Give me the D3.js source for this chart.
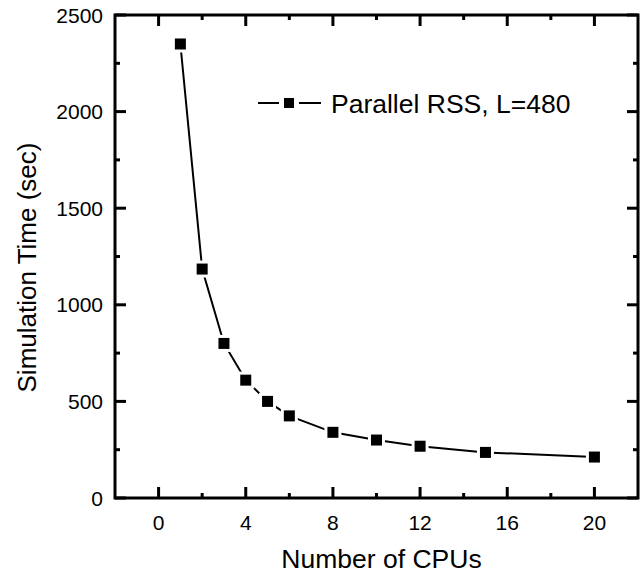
<!DOCTYPE html>
<html>
<head>
<meta charset="utf-8">
<script src="https://cdn.jsdelivr.net/npm/d3@7"></script>
<style>
  body { margin: 0; background: #fff; }
  svg { font-family: "Liberation Sans", Arial, Helvetica, sans-serif; }
</style>
</head>
<body>
<div class="vis-chart"></div>
<script>
// data
const cpus = [1, 2, 3, 4, 5, 6, 8, 10, 12, 15, 20];
const simTime = [2350, 1185, 800, 610, 500, 425, 340, 300, 268, 236, 212];
const xTicks = [0, 4, 8, 12, 16, 20];
const yTicks = [0, 500, 1000, 1500, 2000, 2500];
const seriesName = "Parallel RSS, L=480";

const width = 642, height = 575;
const margin = {top: 15, right: 4, bottom: 77, left: 115};

const svg = d3.select('.vis-chart')
    .append('svg')
    .attr('width', width)
    .attr('height', height);

const x = d3.scaleLinear().domain([-2, 22]).range([margin.left, width - margin.right]);
const y = d3.scaleLinear().domain([0, 2500]).range([height - margin.bottom, margin.top]);

const x0 = x.range()[0], x1 = x.range()[1];
const y0 = y.range()[0], y1 = y.range()[1];

const major = 11, minor = 5;
const xMinor = d3.range(-2, 23, 2).filter(v => !xTicks.includes(v) && v > -2 && v < 22);
const yMinor = d3.range(250, 2500, 500);

const ticks = svg.append("g")
    .attr("stroke", "#000")
    .attr("stroke-width", 3);

// bottom + top ticks (inward)
xTicks.concat(xMinor).forEach(v => {
    const len = xTicks.includes(v) ? major : minor;
    ticks.append("line").attr("x1", x(v)).attr("x2", x(v)).attr("y1", y0).attr("y2", y0 - len);
    ticks.append("line").attr("x1", x(v)).attr("x2", x(v)).attr("y1", y1).attr("y2", y1 + len);
});
// left + right ticks (inward)
yTicks.concat(yMinor).forEach(v => {
    const len = yTicks.includes(v) ? major : minor;
    ticks.append("line").attr("y1", y(v)).attr("y2", y(v)).attr("x1", x0).attr("x2", x0 + len);
    ticks.append("line").attr("y1", y(v)).attr("y2", y(v)).attr("x1", x1).attr("x2", x1 - len);
});

// frame
svg.append("rect")
    .attr("x", x0).attr("y", y1)
    .attr("width", x1 - x0).attr("height", y0 - y1)
    .attr("fill", "none")
    .attr("stroke", "#000")
    .attr("stroke-width", 3);

// tick labels
svg.append("g").selectAll("text")
    .data(xTicks)
    .join("text")
    .attr("x", d => x(d))
    .attr("y", y0 + 32)
    .attr("text-anchor", "middle")
    .attr("font-size", 21)
    .text(d => d);

svg.append("g").selectAll("text")
    .data(yTicks)
    .join("text")
    .attr("x", x0 - 12)
    .attr("y", d => y(d))
    .attr("dy", "0.36em")
    .attr("text-anchor", "end")
    .attr("font-size", 21)
    .text(d => d);

// axis titles
svg.append("text")
    .attr("x", (x0 + x1) / 2 + 5)
    .attr("y", y0 + 70)
    .attr("text-anchor", "middle")
    .attr("font-size", 26.5)
    .text("Number of CPUs");

svg.append("text")
    .attr("transform", `translate(36,${(y0 + y1) / 2 + 11}) rotate(-90)`)
    .attr("text-anchor", "middle")
    .attr("font-size", 26)
    .text("Simulation Time (sec)");

// series
const pts = cpus.map((c, i) => [c, simTime[i]]);
const line = d3.line().x(d => x(d[0])).y(d => y(d[1]));

svg.append("path")
    .datum(pts)
    .attr("d", line)
    .attr("fill", "none")
    .attr("stroke", "#000")
    .attr("stroke-width", 2);

const s = 11;
// white halo gives the small gap between line and marker
svg.append("g").selectAll("rect")
    .data(pts)
    .join("rect")
    .attr("x", d => x(d[0]) - s / 2 - 3)
    .attr("y", d => y(d[1]) - s / 2 - 3)
    .attr("width", s + 6)
    .attr("height", s + 6)
    .attr("fill", "#fff");

svg.append("g").selectAll("rect")
    .data(pts)
    .join("rect")
    .attr("x", d => x(d[0]) - s / 2)
    .attr("y", d => y(d[1]) - s / 2)
    .attr("width", s)
    .attr("height", s)
    .attr("fill", "#000");

// legend
const lg = svg.append("g").attr("transform", "translate(258,103)");
lg.append("line").attr("x1", 0).attr("x2", 21).attr("y1", 0).attr("y2", 0)
    .attr("stroke", "#000").attr("stroke-width", 2);
lg.append("line").attr("x1", 41).attr("x2", 63).attr("y1", 0).attr("y2", 0)
    .attr("stroke", "#000").attr("stroke-width", 2);
lg.append("rect").attr("x", 26).attr("y", -5).attr("width", 10).attr("height", 10)
    .attr("fill", "#000");
lg.append("text")
    .attr("x", 73)
    .attr("y", 0)
    .attr("dy", "0.36em")
    .attr("font-size", 26.5)
    .text(seriesName);
</script>
</body>
</html>
